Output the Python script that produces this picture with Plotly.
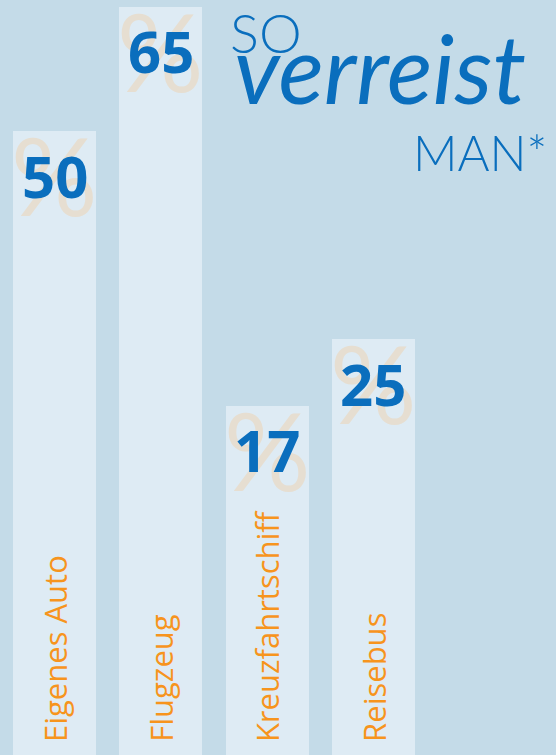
import plotly.graph_objects as go

categories = ["Eigenes Auto", "Flugzeug", "Kreuzfahrtschiff", "Reisebus"]
values = [50, 65, 17, 25]
value_labels = ["50", "65", "17", "25"]

PEDESTAL = 25  # visual offset: bars start below the value axis zero
BG = "#c4dbe8"
BAR = "#deebf4"
BLUE = "#0a6ebd"
ORANGE = "#f7941d"
PCT = "#e6ded1"

x = list(range(len(categories)))

fig = go.Figure()
# pedestal part of each bar (below zero)
fig.add_trace(go.Bar(
    x=x, y=[PEDESTAL] * len(x), base=-PEDESTAL, width=0.781,
    marker=dict(color=BAR, line=dict(width=0)), hoverinfo="skip",
))
# value part of each bar
fig.add_trace(go.Bar(
    x=x, y=values, width=0.781,
    marker=dict(color=BAR, line=dict(width=0)), hoverinfo="skip",
))

ann = []
for i, (v, lab, cat) in enumerate(zip(values, value_labels, categories)):
    ann.append(dict(x=i, y=v, xref="x", yref="y", text="%", showarrow=False,
                    xanchor="center", yanchor="middle", yshift=-43,
                    font=dict(family="Lato", size=108, color=PCT, weight=400)))
    ann.append(dict(x=i, y=v, xref="x", yref="y", text=lab, showarrow=False,
                    xanchor="center", yanchor="middle", yshift=-44,
                    font=dict(family="Open Sans", size=58, color=BLUE, weight=700)))
    ann.append(dict(x=i, y=-PEDESTAL, xref="x", yref="y", text=cat, showarrow=False,
                    textangle=-90, xanchor="center", yanchor="bottom", yshift=11,
                    font=dict(family="Open Sans", size=31, color=ORANGE)))

ann.append(dict(x=228 / 556, y=1 + 2 / 755, xref="paper", yref="paper", text="SO",
                showarrow=False, xanchor="left", yanchor="top",
                font=dict(family="Lato", size=54, color=BLUE, weight=300)))
ann.append(dict(x=232 / 556, y=1 - 8 / 755, xref="paper", yref="paper", text="verreist",
                showarrow=False, xanchor="left", yanchor="top",
                font=dict(family="Lato", size=95, color=BLUE, style="italic", weight=400)))
ann.append(dict(x=411 / 556, y=1 - 121 / 755, xref="paper", yref="paper", text="MAN*",
                showarrow=False, xanchor="left", yanchor="top",
                font=dict(family="Lato", size=49, color=BLUE, weight=300)))

PX_PER_UNIT = 8.316
fig.update_layout(
    width=556, height=755,
    margin=dict(l=0, r=0, t=0, b=0),
    paper_bgcolor=BG, plot_bgcolor=BG,
    showlegend=False,
    barmode="overlay",
    bargap=0,
    xaxis=dict(range=[-0.513, 4.718], visible=False, fixedrange=True),
    yaxis=dict(range=[-PEDESTAL, -PEDESTAL + 755 / PX_PER_UNIT], visible=False, fixedrange=True),
    annotations=ann,
)

fig.write_html("out.html", config={"displayModeBar": False},
               post_script="document.body.style.margin='0';document.body.style.overflow='hidden';")
